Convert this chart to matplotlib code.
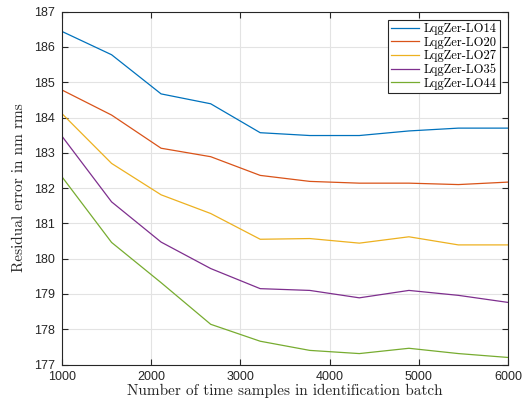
import numpy as np
import matplotlib
matplotlib.use('Agg')
import matplotlib.pyplot as plt

# batch sizes (10 runs between 1000 and 6000)
n_samples = [1000, 1556, 2111, 2667, 3222, 3778, 4333, 4889, 5444, 6000]

series_names = ['LqgZer-LO14', 'LqgZer-LO20', 'LqgZer-LO27', 'LqgZer-LO35', 'LqgZer-LO44']
lo14 = [186.44, 185.78, 184.67, 184.39, 183.57, 183.49, 183.49, 183.62, 183.70, 183.70]
lo20 = [184.78, 184.07, 183.13, 182.89, 182.36, 182.19, 182.14, 182.14, 182.10, 182.17]
lo27 = [184.11, 182.70, 181.81, 181.28, 180.55, 180.57, 180.44, 180.62, 180.39, 180.39]
lo35 = [183.47, 181.61, 180.47, 179.72, 179.15, 179.10, 178.89, 179.10, 178.96, 178.76]
lo44 = [182.32, 180.46, 179.32, 178.14, 177.66, 177.40, 177.31, 177.46, 177.31, 177.20]

colors = ['#0072BD', '#D95319', '#EDB120', '#7E2F8E', '#77AC30']

fig = plt.figure(figsize=(5.27, 4.03), dpi=100)
ax = fig.add_axes([0.1176, 0.0955, 0.8464, 0.8755])

for name, vals, c in zip(series_names, [lo14, lo20, lo27, lo35, lo44], colors):
    ax.plot(n_samples, vals, color=c, lw=0.9, label=name)

ax.set_xlim(1000, 6000)
ax.set_ylim(177, 187)
ax.set_xticks(np.arange(1000, 6001, 1000))
ax.set_yticks(np.arange(177, 188, 1))
ax.grid(True, color='#e3e3e3', lw=0.8)
ax.set_axisbelow(True)
ax.tick_params(direction='in', top=True, right=True, length=4, width=0.8,
               labelsize=9, colors='#262626')
ax.tick_params(axis='y', pad=5)
ax.tick_params(axis='x', pad=5)
for lab in ax.get_xticklabels() + ax.get_yticklabels():
    lab.set_family('Liberation Sans')
for s in ax.spines.values():
    s.set_color('#262626')
    s.set_linewidth(0.8)

ax.set_xlabel('Number of time samples in identification batch', family='cmr10',
              fontsize=11, color='#262626', labelpad=0)
ax.set_ylabel('Residual error in nm rms', family='cmr10', fontsize=11,
              color='#262626', labelpad=6)

leg = ax.legend(loc='upper right', prop={'family': 'cmr10', 'size': 9},
                fancybox=False, edgecolor='#262626', framealpha=1,
                borderaxespad=0.65, handlelength=2.2, labelspacing=0.12,
                borderpad=0.25, handletextpad=0.4)
leg.get_frame().set_linewidth(0.8)

fig.savefig('out.png', dpi=100)
